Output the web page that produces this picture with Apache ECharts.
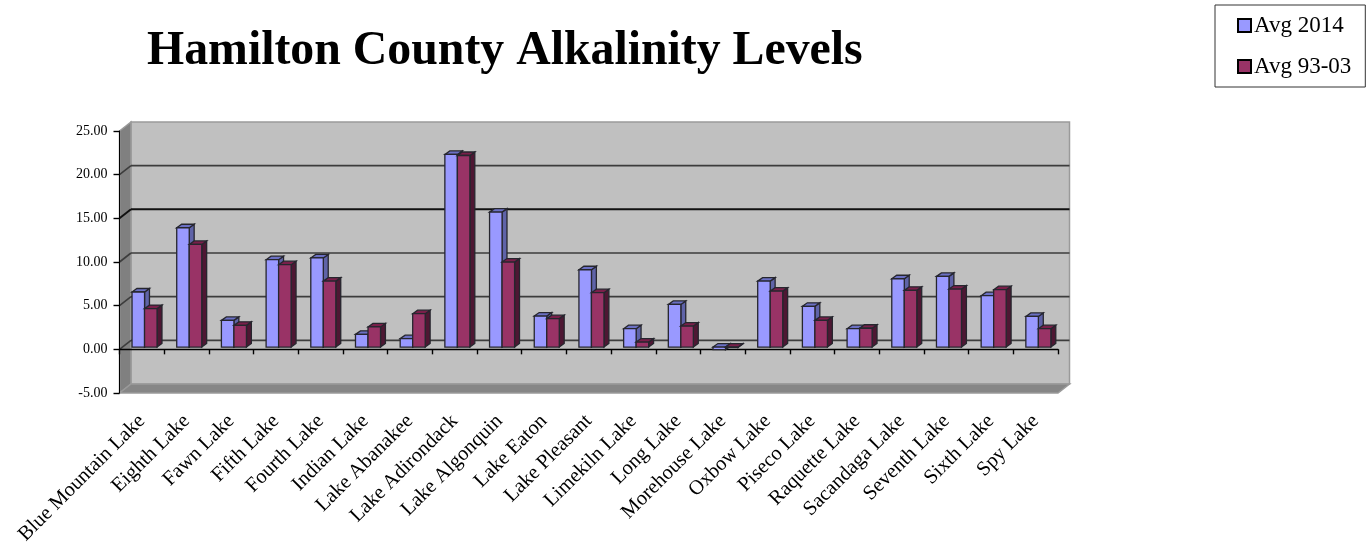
<!DOCTYPE html>
<html><head><meta charset="utf-8">
<style>html,body{margin:0;padding:0;background:#fff}#c{width:1366px;height:548px;filter:blur(0.5px)}</style>
<script src="https://cdn.jsdelivr.net/npm/echarts@6/dist/echarts.min.js"></script>
</head><body><div id="c"></div>
<script>
const categories = ["Blue Mountain Lake","Eighth Lake","Fawn Lake","Fifth Lake","Fourth Lake","Indian Lake","Lake Abanakee","Lake Adirondack","Lake Algonquin","Lake Eaton","Lake Pleasant","Limekiln Lake","Long Lake","Morehouse Lake","Oxbow Lake","Piseco Lake","Raquette Lake","Sacandaga Lake","Seventh Lake","Sixth Lake","Spy Lake"];
const avg2014 = [6.3,13.66,3.05,10.0,10.2,1.45,0.96,22.05,15.45,3.55,8.85,2.1,4.88,-0.3,7.55,4.66,2.1,7.82,8.09,5.88,3.5];
const avg9303 = [4.4,11.75,2.48,9.43,7.55,2.3,3.82,21.93,9.73,3.25,6.22,0.57,2.4,-0.05,6.4,3.05,2.15,6.49,6.64,6.57,2.1];
const yTicks = [-5,0,5,10,15,20,25];
const FONT = '"Liberation Serif","Times New Roman",serif';
const WALL_DX = 11.5, WALL_DY = -9;
const chart = echarts.init(document.getElementById('c'), null, {renderer:'canvas'});

function wallItem(params, api){
  const tl = api.coord([0,25]), bl = api.coord([0,-5]);
  const w = api.size([1,0])[0]*categories.length;
  const x0 = tl[0]-api.size([1,0])[0]/2, x1 = x0+w, yT = tl[1], yB = bl[1];
  const stroke = {stroke:'#9a9a9a',lineWidth:1.5};
  return {type:'group',children:[
    {type:'polygon',shape:{points:[[x0+WALL_DX,yT+WALL_DY],[x1+WALL_DX,yT+WALL_DY],[x1+WALL_DX,yB+WALL_DY],[x0+WALL_DX,yB+WALL_DY]]},style:{fill:'#c0c0c0',...stroke}},
    {type:'polygon',shape:{points:[[x0,yT],[x0+WALL_DX,yT+WALL_DY],[x0+WALL_DX,yB+WALL_DY],[x0,yB]]},style:{fill:'#808080',...stroke}},
    {type:'polygon',shape:{points:[[x0,yB],[x0+WALL_DX,yB+WALL_DY],[x1+WALL_DX,yB+WALL_DY],[x1,yB]]},style:{fill:'#868686',...stroke}}
  ]};
}
function gridItem(params, api){
  const v = api.value(0);
  if (v === 25 || v === -5) return {type:'group',children:[]};
  const cw = api.size([1,0])[0];
  const p = api.coord([0,v]);
  const x0 = p[0]-cw/2, x1 = x0+cw*categories.length, y = p[1];
  const st = {stroke: v===15 ? '#111' : '#3c3c3c', lineWidth: v===15 ? 2 : 1.6};
  return {type:'group',children:[
    {type:'line',shape:{x1:x0,y1:y,x2:x0+WALL_DX,y2:y+WALL_DY},style:st},
    {type:'line',shape:{x1:x0+WALL_DX,y1:y+WALL_DY,x2:x1+WALL_DX,y2:y+WALL_DY},style:st}
  ]};
}
function barRender(front, top, side, slot){
  return function(params, api){
    const i = api.value(0), v = api.value(1);
    const cw = api.size([1,0])[0];
    const c = api.coord([i,0]), t = api.coord([i,v]);
    const bw = cw*0.28, dx = cw*0.11, dy = -3.5, lift = -2.3;
    const xL = c[0] - cw*0.224 + slot*bw + 0.2, xR = xL + bw;
    const yb = c[1]+lift, yt = t[1]+lift;
    const hi = Math.min(yb,yt), lo = Math.max(yb,yt);
    const line = {stroke:'#26262e',lineWidth:1.3};
    return {type:'group',children:[
      {type:'polygon',shape:{points:[[xR,hi],[xR+dx,hi+dy],[xR+dx,lo+dy],[xR,lo]]},style:{fill:side,...line}},
      {type:'polygon',shape:{points:[[xL,hi],[xL+dx,hi+dy],[xR+dx,hi+dy],[xR,hi]]},style:{fill:top,...line}},
      {type:'rect',shape:{x:xL,y:hi,width:bw,height:lo-hi},style:{fill:front,...line}}
    ]};
  };
}
chart.setOption({
  animation:false,
  backgroundColor:'#fff',
  title:{text:'Hamilton County Alkalinity Levels',left:147,top:28,padding:0,
    textStyle:{fontFamily:FONT,fontSize:47.8,fontWeight:'bold',color:'#000'}},
  legend:{data:['Avg 2014','Avg 93-03'],orient:'vertical',left:1215,top:5,
    padding:[9,14,9,22],itemGap:18,itemWidth:13,itemHeight:13,icon:'rect',
    borderColor:'#333',borderWidth:1,backgroundColor:'#fff',
    itemStyle:{borderColor:'#000',borderWidth:2},
    textStyle:{fontFamily:FONT,fontSize:23,color:'#000',padding:[0,0,0,-2]}},
  grid:{left:119.5,right:308,top:131,bottom:155,containLabel:false,outerBoundsMode:'none'},
  xAxis:{type:'category',data:categories,z:2,
    axisLine:{onZero:true,lineStyle:{color:'#000',width:1.4}},
    axisTick:{show:true,length:5,alignWithLabel:false,lineStyle:{color:'#000',width:1.4}},
    axisLabel:{interval:0,rotate:45,margin:25,fontFamily:FONT,fontSize:20.5,color:'#000'},
    splitLine:{show:false}},
  yAxis:{type:'value',min:-5,max:25,interval:5,z:2,
    axisLine:{show:true,lineStyle:{color:'#000',width:1}},
    axisTick:{show:true,length:6,lineStyle:{color:'#000',width:1.4}},
    axisLabel:{margin:12,fontFamily:FONT,fontSize:14,color:'#000',formatter:v=>v.toFixed(2)},
    splitLine:{show:false}},
  series:[
    {type:'custom',name:'wall',z:1,silent:true,clip:false,data:[[0,25]],encode:{x:0,y:1},renderItem:wallItem},
    {type:'custom',name:'grid',z:1.5,silent:true,clip:false,data:yTicks.map(v=>[v]),encode:{y:0},renderItem:gridItem},
    {type:'custom',name:'Avg 2014',z:3,clip:false,itemStyle:{color:'#9999ff'},
      data:avg2014.map((v,i)=>[i,v]),encode:{x:0,y:1},renderItem:barRender('#9999ff','#6b70c4','#5f63a8',0)},
    {type:'custom',name:'Avg 93-03',z:3,clip:false,itemStyle:{color:'#993366'},
      data:avg9303.map((v,i)=>[i,v]),encode:{x:0,y:1},renderItem:barRender('#993366','#7a1f4a','#4e1733',1)}
  ]
});
</script></body></html>
